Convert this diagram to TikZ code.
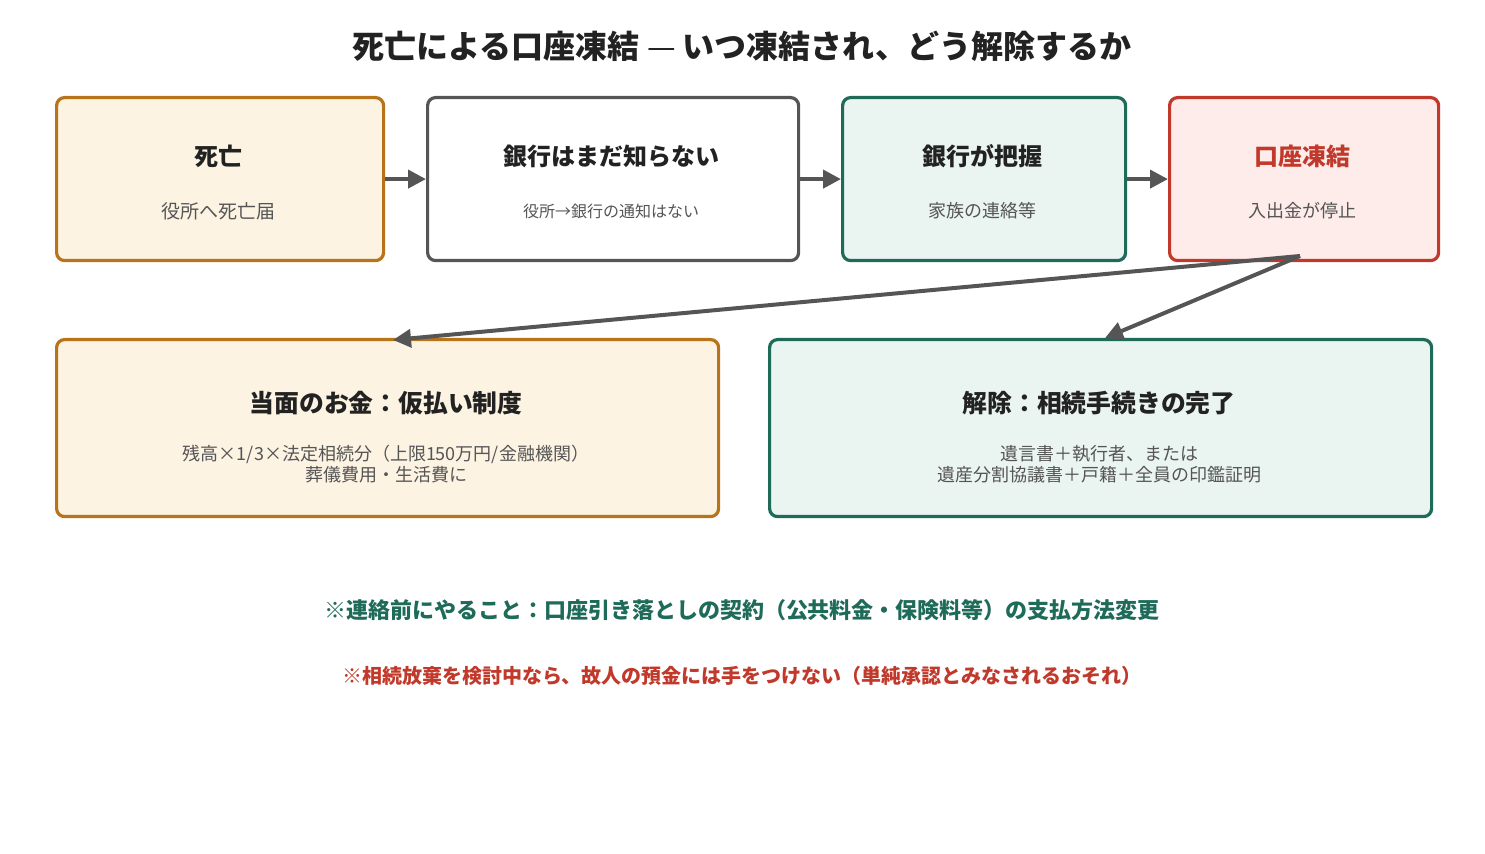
\documentclass[tikz,border=0pt]{standalone}
\usepackage{fontspec}
\setmainfont{Noto Sans CJK JP}
\usetikzlibrary{arrows.meta}
\definecolor{orn}{HTML}{B8741A}\definecolor{ornf}{HTML}{FCF3E3}
\definecolor{gry}{HTML}{555555}
\definecolor{grn}{HTML}{1F6B5A}\definecolor{grnf}{HTML}{EAF4F0}
\definecolor{rd}{HTML}{C0392B}\definecolor{rdf}{HTML}{FDECEA}
\definecolor{txt}{HTML}{222222}\definecolor{sub}{HTML}{555555}
\begin{document}
\begin{tikzpicture}[x=0.5pt,y=-0.5pt,
 box/.style={draw,line width=1.6pt,rounded corners=4pt,anchor=north west,inner sep=0pt},
 ttl/.style={font=\bfseries\fontsize{12}{14}\selectfont,text=txt},
 st/.style={font=\fontsize{9.5}{10.5}\selectfont,text=sub,align=center},
 arr/.style={draw=gry,line width=2pt,-{Triangle[length=9pt,width=9pt]}}]
\useasboundingbox (0,0) rectangle (1485,854);
\node[font=\bfseries\fontsize{16}{19}\selectfont,text=txt] (title) at (742,46) {死亡による口座凍結 {\mdseries —} いつ凍結され、どう解除するか};
\node[box,draw=orn,fill=ornf,minimum width=327*0.5pt,minimum height=163*0.5pt] (b1) at (55,96) {};
\node[box,draw=gry,fill=white,minimum width=371*0.5pt,minimum height=163*0.5pt] (b2) at (426,96) {};
\node[box,draw=grn,fill=grnf,minimum width=283*0.5pt,minimum height=163*0.5pt] (b3) at (841,96) {};
\node[box,draw=rd,fill=rdf,minimum width=269*0.5pt,minimum height=163*0.5pt] (b4) at (1168,96) {};
\node[box,draw=orn,fill=ornf,minimum width=662*0.5pt,minimum height=177*0.5pt] (b5) at (55,338) {};
\node[box,draw=grn,fill=grnf,minimum width=662*0.5pt,minimum height=177*0.5pt] (b6) at (768,338) {};
\node[ttl] (t1) at (218,156) {死亡};
\node[st] (s1) at (218,211) {役所へ死亡届};
\node[ttl] (t2) at (611,156) {銀行はまだ知らない};
\node[st,font=\fontsize{8}{10}\selectfont] (s2) at (611,211) {役所→銀行の通知はない};
\node[ttl] (t3) at (982,156) {銀行が把握};
\node[st,font=\fontsize{9}{10}\selectfont] (s3) at (982,211) {家族の連絡等};
\node[ttl,text=rd] (t4) at (1302,156) {口座凍結};
\node[st,font=\fontsize{9}{10}\selectfont] (s4) at (1302,211) {入出金が停止};
\node[ttl,font=\bfseries\fontsize{12.4}{14}\selectfont] (t5) at (386,403) {当面のお金：仮払い制度};
\node[st,font=\fontsize{9}{10.5}\selectfont] (s5) at (386,464) {残高×1/3×法定相続分（上限150万円/金融機関）\\葬儀費用・生活費に};
\node[ttl,font=\bfseries\fontsize{12.4}{14}\selectfont] (t6) at (1099,403) {解除：相続手続きの完了};
\node[st,font=\fontsize{9}{10.5}\selectfont] (s6) at (1099,464) {遺言書＋執行者、または\\遺産分割協議書＋戸籍＋全員の印鑑証明};
\node[font=\bfseries\fontsize{11}{13}\selectfont,text=grn] (n1) at (742,610) {※連絡前にやること：口座引き落としの契約（公共料金・保険料等）の支払方法変更};
\node[font=\bfseries\fontsize{10}{12}\selectfont,text=rd] (n2) at (742,676) {※相続放棄を検討中なら、故人の預金には手をつけない（単純承認とみなされるおそれ）};
\draw[arr] (b1.east) -- (b2.west);
\draw[arr] (b2.east) -- (b3.west);
\draw[arr] (b3.east) -- (b4.west);
\coordinate (c4) at (1300,256);
\coordinate (c5) at (393,340);
\coordinate (c6) at (1105,338);
\draw[arr] (c4) -- (c5);
\draw[arr] (c4) -- (c6);
\end{tikzpicture}
\end{document}
